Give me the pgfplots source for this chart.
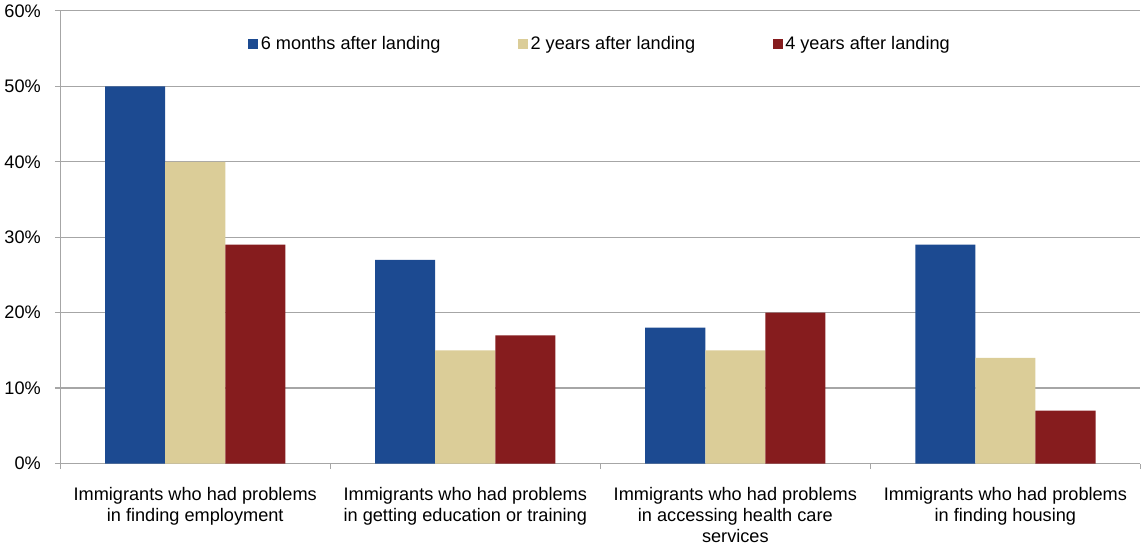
\documentclass[border=0pt]{standalone}
\usepackage{pgfplots}
\pgfplotsset{compat=1.18}
\usepackage{fontspec}
\setmainfont{Liberation Sans}
\definecolor{cblue}{HTML}{1C4A91}
\definecolor{cbeige}{HTML}{DBCD98}
\definecolor{cred}{HTML}{861C1E}
\definecolor{cgrid}{HTML}{A6A6A6}
\begin{document}
\begin{tikzpicture}
\begin{axis}[
  scale only axis,
  width=809pt, height=339pt,
  ybar=0pt, bar width=45pt,
  xmin=-0.5, xmax=3.5,
  ymin=0, ymax=60,
  ytick={0,10,20,30,40,50,60},
  yticklabel={\pgfmathprintnumber{\tick}\%},
  xtick={0,1,2,3},
  xticklabels={{Immigrants who had problems\\in finding employment},
                {Immigrants who had problems\\in getting education or training},
                {Immigrants who had problems\\in accessing health care\\services},
                {Immigrants who had problems\\in finding housing}},
  xticklabel style={align=center, font=\fontsize{13.6}{16}\selectfont, yshift=-10pt},
  yticklabel style={font=\fontsize{13.6}{16}\selectfont, xshift=-7pt},
  /pgf/number format/assume math mode=true,
  minor xtick={-0.5,0.5,1.5,2.5,3.5},
  major x tick style={draw=none},
  minor tick length=4pt,
  major tick length=4pt,
  tick align=outside,
  tick pos=left,
  axis x line*=bottom,
  axis y line*=left,
  axis line style={cgrid, line width=0.9pt},
  every tick/.style={cgrid, line width=0.9pt},
  ymajorgrids,
  grid style={cgrid, line width=0.9pt},
  legend columns=3,
  legend style={draw=none, fill=none, at={(0.5,0.927)}, anchor=center,
    font=\fontsize{13.6}{16}\selectfont,
    /tikz/every even column/.append style={column sep=56pt}},
  legend image code/.code={\fill[#1] (0pt,-3.75pt) rectangle (7.5pt,3.75pt);},
]
\addplot[fill=cblue, draw=none] coordinates {(0,50) (1,27) (2,18) (3,29)};
\addplot[fill=cbeige, draw=none] coordinates {(0,40) (1,15) (2,15) (3,14)};
\addplot[fill=cred, draw=none] coordinates {(0,29) (1,17) (2,20) (3,7)};
\legend{6 months after landing, 2 years after landing, 4 years after landing}
\end{axis}
\end{tikzpicture}
\end{document}
